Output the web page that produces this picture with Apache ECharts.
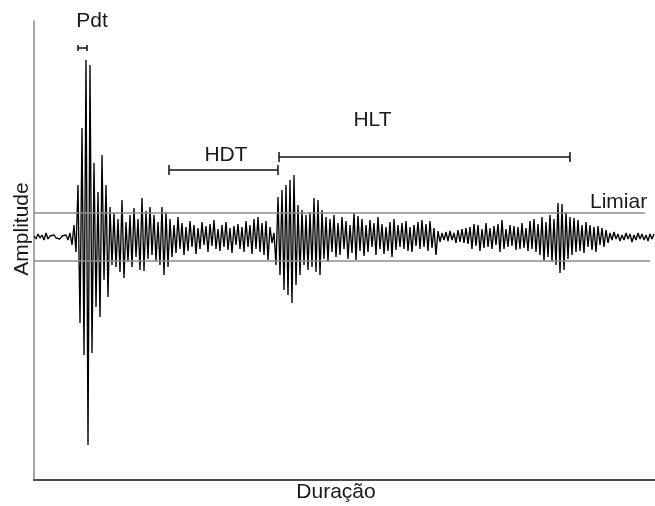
<!DOCTYPE html>
<html>
<head>
<meta charset="utf-8">
<script src="https://cdn.jsdelivr.net/npm/echarts@6/dist/echarts.min.js"></script>
<style>
html,body{margin:0;padding:0;background:#fff;}
#chart{width:655px;height:506px;}
</style>
</head>
<body>
<div id="chart"></div>
<script>
// ---- Signal amplitude samples, one sample per time step ----
const preTrigger   = [1,-2,3,-1,2,-3,4,-2,1,-1,2,-1,1,-2,1,-1,2,-3,4];
const onset        = [-8,12,-15];
const firstBurst   = [52,-86,109,-118,177,-208,172,-116,74,-70,45,-80,82,-43,52,-60,30];
const firstDecay   = [-28,24,-30,18,-35,37,-41,15,-25,22,-30,29,-20,18,-33,39,-34,26,-22,30,-18,22,-24,15,-28,30,-38,25,-30];
const hdtQuiet     = [18,-20,12,-16,20,-12,14,-18,10,-14,16,-10,12,-17,9,-12,15,-8,11,-15,13,-9,17,-12,8,-14,12,-10,15,-13,9,-16,11,-8,13,-12,10,-15,16,-10,12,-17,18,-12,20,-15,14,-18,16,-23,10,-6,4];
const secondBurst  = [-28,40,-38,47,-53,52,-58,57,-66,62,-48,32,-38,27,-28,22,-33,25,-30,39,-35,37,-38,27,-22,20,-25];
const hltActivity  = [18,-15,22,-20,14,-18,20,-12,16,-22,12,-16,24,-23,21,-14,18,-19,12,-15,17,-10,14,-18,20,-12,13,-17,10,-14,15,-20,18,-13,12];
const hltLow       = [-10,14,-12,16,-14,10,-15,12,-9,15,-12,17,-10,13,-14,16,-11,9,-18,6];
const hltQuiet     = [-5,4,-3,5,-4,6,-3,4,-6,7,-5,8,-6,9,-7];
const hltRise      = [10,-12,13,-9,12,-14,8,-11,14,-10,9,-12,11,-8,13,-15,17,-12,8,-10,12,-9,11,-13,10,-12,14,-11,9,-14,16,-12,18,-15,13,-18,20,-24,15];
const thirdBurst   = [-20,22,-25,18,-28,34,-36,33,-33,25,-22,20,-18];
const thirdDecay   = [19,-15,17,-14,12,-16,15,-10,12,-13,10,-15,11,-8,9,-10,7,-6];
const tail         = [4,-3,5,-2,3,-4,2,-3,4,-2,3,-5,2,-3,4,-2,3,-3,2,-4,3,-2,3];
const sampleStep = 2;

// ---- Threshold (Limiar) and the end of each threshold line ----
const thresholdLevel = 24;
const thresholdEnds = [611, 616];

// ---- Time intervals marked above the signal ----
const spanNames = ['Pdt', 'HDT', 'HLT'];
const spanStart = [44, 135, 245];
const spanEnd   = [53, 244, 536];
const spanLevel = [189, 67, 80];

const amplitude = [].concat(preTrigger, onset, firstBurst, firstDecay, hdtQuiet, secondBurst,
  hltActivity, hltLow, hltQuiet, hltRise, thirdBurst, thirdDecay, tail);
const signal = amplitude.map((a, i) => [i * sampleStep, a]);
const spans = spanNames.map((n, i) => [spanStart[i], spanEnd[i], spanLevel[i], n]);

const FONT = '21px "Liberation Sans", Arial, sans-serif';
const TXT = '#1a1a1a';
const labelOffset = { Pdt: [9.5, -27], HDT: [2.5, -15], HLT: [-52, -37] };
const capHalf = { Pdt: 3, HDT: 5, HLT: 5 };

const chart = echarts.init(document.getElementById('chart'), null, { renderer: 'canvas' });
chart.setOption({
  animation: false,
  backgroundColor: '#fff',
  grid: { left: 34, right: 0, top: 21, bottom: 26 },
  xAxis: {
    type: 'value', min: 0, max: 621,
    axisLine: { show: true, onZero: false, lineStyle: { color: '#4a4a4a', width: 2 } },
    axisTick: { show: false }, axisLabel: { show: false }, splitLine: { show: false }
  },
  yAxis: {
    type: 'value', min: -243, max: 216,
    axisLine: { show: true, onZero: false, lineStyle: { color: '#8a8a8a', width: 1.5 } },
    axisTick: { show: false }, axisLabel: { show: false }, splitLine: { show: false }
  },
  graphic: [
    { type: 'text', x: 22, y: 229, rotation: Math.PI / 2,
      style: { text: 'Amplitude', font: FONT, fill: TXT, textAlign: 'center', textVerticalAlign: 'middle' } },
    { type: 'text', x: 336, y: 492,
      style: { text: 'Duração', font: FONT, fill: TXT, textAlign: 'center', textVerticalAlign: 'middle' } },
    { type: 'text', x: 590, y: 202,
      style: { text: 'Limiar', font: FONT, fill: TXT, textAlign: 'left', textVerticalAlign: 'middle' } }
  ],
  series: [
    {
      type: 'line',
      data: signal,
      showSymbol: false,
      symbol: 'none',
      z: 3,
      lineStyle: { color: '#000', width: 1.35 },
      markLine: {
        silent: true,
        symbol: ['none', 'none'],
        label: { show: false },
        lineStyle: { color: '#8c8c8c', width: 1.5, type: 'solid' },
        data: [
          [{ coord: [0, thresholdLevel] }, { coord: [thresholdEnds[0], thresholdLevel] }],
          [{ coord: [0, -thresholdLevel] }, { coord: [thresholdEnds[1], -thresholdLevel] }]
        ]
      }
    },
    {
      type: 'custom',
      data: spans,
      encode: { x: [0, 1], y: 2 },
      z: 4,
      renderItem: function (params, api) {
        const name = spanNames[params.dataIndex];
        const p0 = api.coord([api.value(0), api.value(2)]);
        const p1 = api.coord([api.value(1), api.value(2)]);
        const h = capHalf[name];
        const off = labelOffset[name];
        const cx = (p0[0] + p1[0]) / 2;
        const st = { stroke: '#111', lineWidth: 1.5 };
        return {
          type: 'group',
          children: [
            { type: 'line', shape: { x1: p0[0], y1: p0[1], x2: p1[0], y2: p1[1] }, style: st },
            { type: 'line', shape: { x1: p0[0], y1: p0[1] - h, x2: p0[0], y2: p0[1] + h }, style: st },
            { type: 'line', shape: { x1: p1[0], y1: p1[1] - h, x2: p1[0], y2: p1[1] + h }, style: st },
            { type: 'text', x: cx + off[0], y: p0[1] + off[1],
              style: { text: name, font: FONT, fill: TXT, textAlign: 'center', textVerticalAlign: 'middle' } }
          ]
        };
      }
    }
  ]
});
</script>
</body>
</html>
